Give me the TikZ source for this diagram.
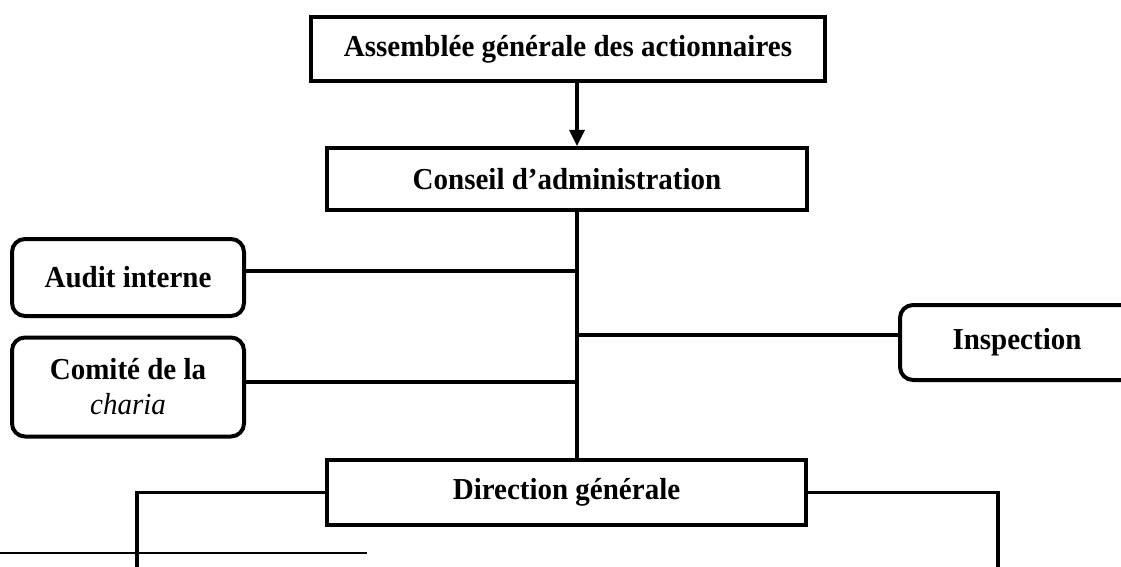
\documentclass[tikz,border=0pt]{standalone}
\usepackage{fontspec}
\usepackage{graphicx}
\setmainfont{Liberation Serif}
\usetikzlibrary{arrows.meta}
\newcommand\tallt[1]{\scalebox{1}[1.05]{#1}}
\begin{document}
\begin{tikzpicture}[x=1pt,y=-1pt,
  sqbox/.style={draw, line width=4pt, inner sep=0pt, font=\fontsize{29}{35}\selectfont\bfseries, align=center},
  rbox/.style={sqbox, rounded corners=13pt},
  conn/.style={line width=3.3pt},
  arr/.style={conn, -{Triangle[length=16pt,width=15pt]}},
  rule/.style={line width=1.6pt}]
\useasboundingbox (0,0) rectangle (1121,567);
\clip (0,0) rectangle (1121,567);
\node[sqbox, minimum width=514pt, minimum height=64pt] (ag) at (568,49) {\tallt{Assemblée générale des actionnaires}};
\node[sqbox, minimum width=480pt, minimum height=62pt] (ca) at (567,179) {\tallt{Conseil d’administration}};
\node[rbox, minimum width=232pt, minimum height=77pt] (ai) at (128,277.5) {\tallt{Audit interne}};
\node[rbox, minimum width=232pt, minimum height=99pt] (cc) at (128,387) {\tallt{Comité de la}\\\tallt{\mdseries\itshape charia}};
\node[rbox, minimum width=234pt, minimum height=75pt] (insp) at (1017,342.5) {\tallt{Inspection}};
\node[sqbox, minimum width=479pt, minimum height=65pt] (dg) at (566.5,492.5) {\tallt{Direction générale}};
\coordinate (tx) at (577,0);
\coordinate (ya) at (0,271);
\coordinate (yc) at (0,382);
\coordinate (yi) at (0,335);
\coordinate (bl) at (137,570);
\coordinate (br) at (998,570);
\coordinate (r1) at (0,553);
\coordinate (r2) at (367,553);
\draw[arr] (ag.south -| tx) -- (ca.north -| tx);
\draw[conn] (ca.south -| tx) -- (dg.north -| tx);
\draw[conn] (ai.east |- ya) -- (tx |- ya);
\draw[conn] (cc.east |- yc) -- (tx |- yc);
\draw[conn] (tx |- yi) -- (insp.west |- yi);
\draw[conn] (dg.west) -| (bl);
\draw[conn] (dg.east) -| (br);
\draw[rule] (r1) -- (r2);
\end{tikzpicture}
\end{document}
